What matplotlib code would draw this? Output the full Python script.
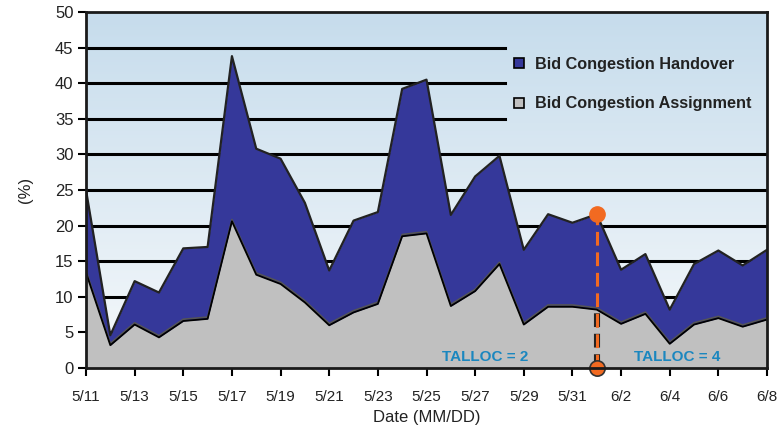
import numpy as np
import matplotlib
matplotlib.use("Agg")
import matplotlib.pyplot as plt
import matplotlib.patheffects as pe
from matplotlib.colors import LinearSegmentedColormap
from matplotlib.lines import Line2D

# daily bid congestion rates (%)
dates = ["5/11", "5/12", "5/13", "5/14", "5/15", "5/16", "5/17", "5/18", "5/19", "5/20",
         "5/21", "5/22", "5/23", "5/24", "5/25", "5/26", "5/27", "5/28", "5/29", "5/30",
         "5/31", "6/1", "6/2", "6/3", "6/4", "6/5", "6/6", "6/7", "6/8"]
total = [25.0, 4.6, 12.2, 10.6, 16.8, 17.0, 43.8, 30.8, 29.4, 23.2,
         13.7, 20.7, 21.9, 39.2, 40.5, 21.5, 26.9, 29.8, 16.6, 21.6,
         20.4, 21.6, 13.8, 16.0, 8.2, 14.6, 16.5, 14.4, 16.6]
assignment = [13.4, 3.2, 6.1, 4.3, 6.6, 6.9, 20.6, 13.1, 11.8, 9.2,
              6.0, 7.8, 9.0, 18.5, 18.9, 8.7, 10.8, 14.6, 6.1, 8.6,
              8.6, 8.2, 6.2, 7.6, 3.4, 6.1, 7.0, 5.8, 6.8]
switch_day = "6/1"
talloc_labels = [("TALLOC = 2", 16.4), ("TALLOC = 4", 24.3)]

NAVY = "#35389a"
GRAY = "#c0c0c0"
ORANGE = "#f26a21"
TEAL = "#1b87bf"
plt.rcParams["font.family"] = ["Liberation Sans", "DejaVu Sans"]

x = np.arange(len(dates))
total = np.array(total)
assignment = np.array(assignment)

fig = plt.figure(figsize=(7.78, 4.30), dpi=100)
ax = fig.add_axes([86 / 778, 1 - 368 / 430, (767 - 86) / 778, (368 - 12) / 430])
ax.set_xlim(0, len(dates) - 1)
ax.set_ylim(0, 50)

# pale blue-to-white backdrop
bg = LinearSegmentedColormap.from_list("bg", ["#f6f9fb", "#c6dcec"])
ax.imshow(np.linspace(0, 1, 256).reshape(-1, 1), cmap=bg, aspect="auto",
          extent=[0, len(dates) - 1, 0, 50], origin="lower", zorder=0)

# horizontal rules; the upper ones stop short of the legend
for v in range(5, 50, 5):
    xmax = 0.615 if v >= 35 else 1.0
    ax.axhline(v, xmin=0, xmax=xmax, color="black", lw=2.2, zorder=1)

ax.fill_between(x, 0, total, color=NAVY, zorder=2, lw=0)
ax.plot(x, total, color="#222222", lw=1.6, zorder=3)
ax.fill_between(x, 0, assignment, color=GRAY, zorder=4, lw=0)
ax.plot(x, assignment + 0.25, color="#555555", lw=1.2, zorder=5)
ax.plot(x, assignment, color="black", lw=1.3, zorder=5)

# TALLOC change marker: dashed drop line, outlined where it crosses the gray area
i = dates.index(switch_day)
dash = (0, (4.5, 2.2))
ax.plot([x[i], x[i]], [0, total[i]], color=ORANGE, lw=2.2, ls=dash,
        zorder=6, dash_capstyle="butt")
ax.plot([x[i], x[i]], [0, assignment[i]], color=ORANGE, lw=2.2, ls=dash,
        zorder=7, dash_capstyle="butt",
        path_effects=[pe.withStroke(linewidth=4.4, foreground="#222222")])
ax.plot([x[i]], [total[i]], "o", color=ORANGE, ms=11, zorder=8, clip_on=False)
ax.plot([x[i]], [0], "o", color=ORANGE, mec="#333333", mew=1.2, ms=11, zorder=8,
        clip_on=False)

for label, pos in talloc_labels:
    ax.text(pos, 1.6, label, color=TEAL, fontsize=11, fontweight="bold",
            ha="center", va="center", zorder=9)

for s in ax.spines.values():
    s.set_linewidth(2)
    s.set_color("#1a1a1a")
    s.set_zorder(10)

ax.set_xticks(x[::2])
ax.set_xticklabels(dates[::2], fontsize=11, color="#222222")
ax.set_yticks(range(0, 51, 5))
ax.set_yticklabels([str(v) for v in range(0, 51, 5)], fontsize=12, color="#222222")
ax.tick_params(axis="both", direction="out", length=6, width=1.5, color="black")
ax.tick_params(axis="x", pad=10)
ax.tick_params(axis="y", pad=3)

ax.set_xlabel("Date (MM/DD)", fontsize=12, color="#222222", labelpad=4)
ax.set_ylabel("(%)", fontsize=12, color="#222222", labelpad=16)

handles = [
    Line2D([], [], ls="none", marker="s", ms=7, mfc=NAVY, mec="black", mew=1.2),
    Line2D([], [], ls="none", marker="s", ms=7, mfc=GRAY, mec="black", mew=1.2),
]
leg = ax.legend(handles, ["Bid Congestion Handover", "Bid Congestion Assignment"],
                loc="upper left", bbox_to_anchor=(0.605, 0.915), frameon=False,
                handlelength=0.8, handletextpad=0.6, labelspacing=1.5,
                prop={"size": 11.7, "weight": "bold"})
for t in leg.get_texts():
    t.set_color("#222222")

fig.savefig("out.png", dpi=100)
